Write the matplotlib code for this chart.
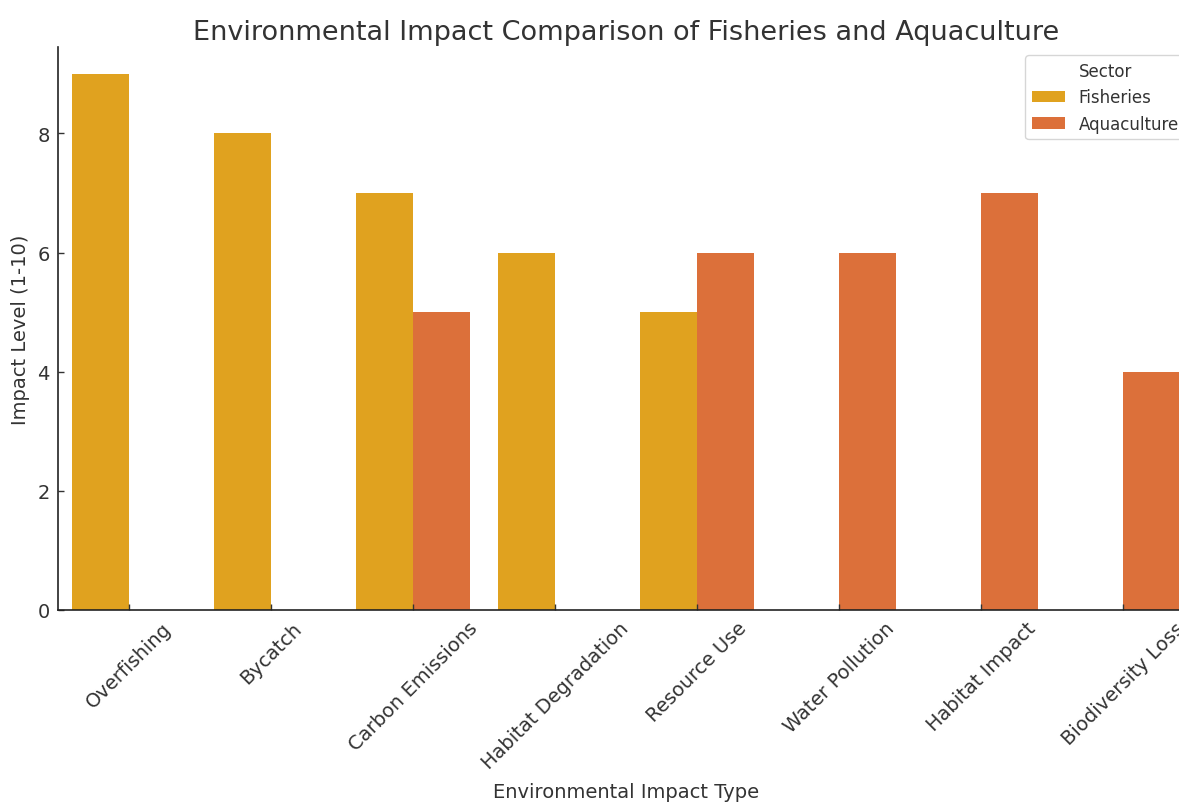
import numpy as np
import matplotlib
matplotlib.use('Agg')
from matplotlib import pyplot as plt

impact_types = [
    'Overfishing', 'Bycatch', 'Carbon Emissions', 'Habitat Degradation',
    'Resource Use', 'Water Pollution', 'Habitat Impact', 'Biodiversity Loss',
]
# NaN where a sector has no score for that impact type
fisheries = [9, 8, 7, 6, 5, np.nan, np.nan, np.nan]
aquaculture = [np.nan, np.nan, 5, np.nan, 6, 6, 7, 4]
sectors = ['Fisheries', 'Aquaculture']
colors = ['#E0A21F', '#DC703A']

text_color = '#333333'
plt.rcParams['font.family'] = ['DejaVu Sans']
plt.rcParams['text.color'] = text_color
plt.rcParams['axes.labelcolor'] = text_color
plt.rcParams['xtick.color'] = text_color
plt.rcParams['ytick.color'] = text_color

fig = plt.figure(figsize=(11.79, 8.03), dpi=100)
ax = fig.add_axes([58 / 1179, 192 / 803, 1136 / 1179, 563 / 803])

x = np.arange(len(impact_types))
width = 0.4
for i, (name, vals, col) in enumerate(zip(sectors, [fisheries, aquaculture], colors)):
    ax.bar(x + (i - 0.5) * width, vals, width, color=col, label=name)

ax.set_xlim(-0.5, len(impact_types) - 0.5)
ax.set_ylim(0, 9.45)
ax.set_yticks([0, 2, 4, 6, 8])
ax.set_xticks(x)
ax.set_xticklabels(impact_types, rotation=45, ha='center')
ax.tick_params(labelsize=14, length=4, width=1.0, direction='in', pad=6)
for side in ('top', 'right'):
    ax.spines[side].set_visible(False)
for side in ('left', 'bottom'):
    ax.spines[side].set_linewidth(1.2)
    ax.spines[side].set_color('#222222')

ax.set_title('Environmental Impact Comparison of Fisheries and Aquaculture',
             fontsize=19.5, pad=6)
ax.set_xlabel('Environmental Impact Type', fontsize=14, labelpad=7)
ax.set_ylabel('Impact Level (1-10)', fontsize=14, labelpad=5)
ax.legend(title='Sector', loc='upper right', fontsize=12, title_fontsize=12)

fig.savefig('out.png')
